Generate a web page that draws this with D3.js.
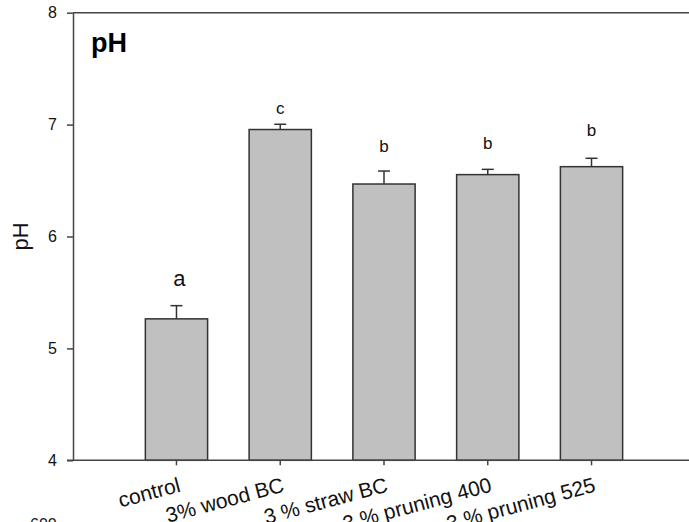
<!DOCTYPE html>
<html>
<head>
<meta charset="utf-8">
<script src="https://cdn.jsdelivr.net/npm/d3@7"></script>
<style>
  html, body { margin: 0; padding: 0; background: #fff; }
  svg { display: block; }
  text { font-family: "Liberation Sans", Arial, sans-serif; }
</style>
</head>
<body>
<svg id="chart" width="689" height="522"></svg>
<script>
// ---- data ----
const categories = ["control", "3% wood BC", "3 % straw BC", "3 % pruning 400", "3 % pruning 525"];
const phValues   = [5.264, 6.956, 6.469, 6.553, 6.624];
const phErrors   = [0.118, 0.047, 0.116, 0.047, 0.075];
const letters    = ["a", "c", "b", "b", "b"];
const letterY    = [5.562, 7.095, 6.752, 6.782, 6.898];
const yTicks     = [4, 5, 6, 7, 8];

const svg = d3.select("#chart");
const W = 689, H = 522;
const axisLeftX = 73;
const axisColor = "#444";

const y = d3.scaleLinear().domain([4, 8]).range([460.3, 12.7]);
const x = d3.scaleBand().domain(categories).range([124.6, 643.4])
  .paddingInner(0.4).paddingOuter(0.2);

// frame line on top (extends past right edge)
svg.append("line").attr("x1", axisLeftX).attr("x2", W + 5)
  .attr("y1", y(8)).attr("y2", y(8))
  .attr("stroke", axisColor).attr("stroke-width", 1.5);

// bars
svg.append("g").selectAll("rect").data(categories).join("rect")
  .attr("x", d => x(d))
  .attr("y", (d, i) => y(phValues[i]))
  .attr("width", x.bandwidth())
  .attr("height", (d, i) => y(4) - y(phValues[i]))
  .attr("fill", "#c0c0c0")
  .attr("stroke", "#333")
  .attr("stroke-width", 1.5);

// error bars (upper only)
const eg = svg.append("g").attr("stroke", "#333").attr("stroke-width", 1.5);
categories.forEach((c, i) => {
  const cx = x(c) + x.bandwidth() / 2;
  eg.append("line").attr("x1", cx).attr("x2", cx)
    .attr("y1", y(phValues[i])).attr("y2", y(phValues[i] + phErrors[i]));
  eg.append("line").attr("x1", cx - 6).attr("x2", cx + 6)
    .attr("y1", y(phValues[i] + phErrors[i])).attr("y2", y(phValues[i] + phErrors[i]));
});

// significance letters
svg.append("g").selectAll("text").data(categories).join("text")
  .attr("x", (d, i) => x(d) + x.bandwidth() / 2 + (i === 0 ? 3 : 0))
  .attr("y", (d, i) => y(letterY[i]))
  .attr("text-anchor", "middle")
  .attr("font-size", (d, i) => i === 0 ? 22 : 17)
  .attr("fill", "#111")
  .text((d, i) => letters[i]);

// y axis
const yAxis = svg.append("g").attr("transform", `translate(${axisLeftX},0)`)
  .call(d3.axisLeft(y).tickValues(yTicks).tickFormat(d3.format("d"))
    .tickSize(6).tickSizeOuter(0).tickPadding(10));
yAxis.select(".domain").attr("stroke", axisColor).attr("stroke-width", 1.5);
yAxis.selectAll(".tick line").attr("stroke", axisColor).attr("stroke-width", 1.5);
yAxis.selectAll(".tick text").attr("font-size", 16).attr("fill", "#111")
  .attr("font-family", "Liberation Sans, Arial, sans-serif");

// x axis
const xAxis = svg.append("g").attr("transform", `translate(0,${y(4)})`)
  .call(d3.axisBottom(x).tickSize(5).tickSizeOuter(0).tickPadding(0));
xAxis.select(".domain").remove();
xAxis.selectAll(".tick line").attr("stroke", axisColor).attr("stroke-width", 1.5);
xAxis.selectAll(".tick text")
  .attr("font-size", 21).attr("fill", "#111")
  .attr("font-family", "Liberation Sans, Arial, sans-serif")
  .attr("text-anchor", "end")
  .attr("dy", null)
  .attr("y", 0)
  .attr("transform", "translate(5,31) rotate(-15)");
svg.append("line").attr("x1", axisLeftX - 6).attr("x2", W + 5)
  .attr("y1", y(4)).attr("y2", y(4))
  .attr("stroke", axisColor).attr("stroke-width", 1.5);

// y axis title
svg.append("text")
  .attr("transform", `translate(28,${(y(4) + y(8)) / 2}) rotate(-90)`)
  .attr("text-anchor", "middle")
  .attr("font-size", 22).attr("fill", "#111")
  .text("pH");

// panel label
svg.append("text")
  .attr("x", 91).attr("y", 52)
  .attr("font-size", 27).attr("font-weight", "bold").attr("fill", "#000")
  .text("pH");

// clipped tick label from the panel below
svg.append("text")
  .attr("x", 30).attr("y", 530)
  .attr("font-size", 16).attr("fill", "#111")
  .text("600");
</script>
</body>
</html>
